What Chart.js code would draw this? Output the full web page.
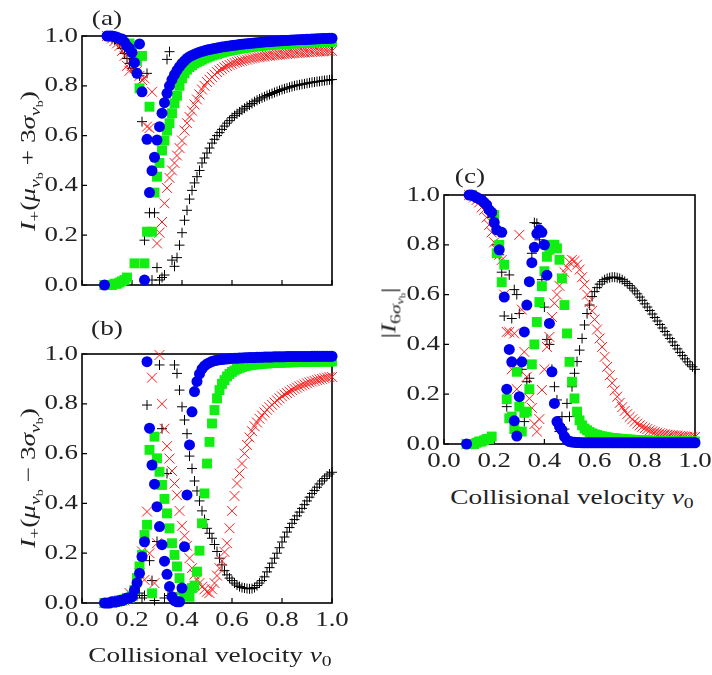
<!DOCTYPE html>
<html>
<head>
<meta charset="utf-8">
<script src="https://cdn.jsdelivr.net/npm/chart.js@4.4.1/dist/chart.umd.min.js"></script>
<style>
  body { margin: 0; background: #fff; }
  #wrap { position: relative; width: 712px; height: 675px; overflow: hidden; font-family: "Liberation Serif", "DejaVu Serif", serif; color: #222; }
  canvas { position: absolute; }
  #chart-a { left: 0px; top: 0px; }
  #chart-b { left: 0px; top: 310px; }
  #chart-c { left: 360px; top: 150px; }
  .lbl { position: absolute; font-size: 21px; white-space: nowrap; line-height: 1; }
  .rot { transform: translate(-50%, -50%) rotate(-90deg) scaleX(1.3); }
  .hor { transform: translate(-50%, -50%) scaleX(1.3); }
  sub { font-size: 72%; vertical-align: -0.3em; line-height: 0; }
</style>
</head>
<body>
<div id="wrap">
  <canvas id="chart-a" width="345" height="300"></canvas>
  <canvas id="chart-b" width="360" height="365"></canvas>
  <canvas id="chart-c" width="352" height="330"></canvas>

  <div class="lbl hor" style="left:107px;top:18px">(a)</div>
  <div class="lbl hor" style="left:107px;top:328px">(b)</div>
  <div class="lbl hor" style="left:470px;top:176px">(c)</div>

  <div class="lbl rot" style="left:28px;top:161px"><i>I</i><sub>+</sub>(<i>μ</i><sub><i>v</i><sub>b</sub></sub> + 3<i>σ</i><sub><i>v</i><sub>b</sub></sub>)</div>
  <div class="lbl rot" style="left:28px;top:478px"><i>I</i><sub>+</sub>(<i>μ</i><sub><i>v</i><sub>b</sub></sub> − 3<i>σ</i><sub><i>v</i><sub>b</sub></sub>)</div>
  <div class="lbl rot" style="left:391px;top:313px">|<i>I</i><sub>6<i>σ</i><sub><i>v</i><sub>b</sub></sub></sub>|</div>

  <div class="lbl hor" style="left:210px;top:655px">Collisional velocity <i>v</i><sub>0</sub></div>
  <div class="lbl hor" style="left:572px;top:497px">Collisional velocity <i>v</i><sub>0</sub></div>
</div>

<script>
// collisional velocity grid (shared by all panels)
const v0 = [
  0.09, 0.10, 0.11, 0.12, 0.13, 0.14, 0.15, 0.16, 0.17, 0.18,
  0.19, 0.20, 0.21, 0.22, 0.23, 0.24, 0.25, 0.26, 0.27, 0.28,
  0.29, 0.30, 0.31, 0.32, 0.33, 0.34, 0.35, 0.36, 0.37, 0.38,
  0.39, 0.40, 0.41, 0.42, 0.43, 0.44, 0.45, 0.46, 0.47, 0.48,
  0.49, 0.50, 0.51, 0.52, 0.53, 0.54, 0.55, 0.56, 0.57, 0.58,
  0.59, 0.60, 0.61, 0.62, 0.63, 0.64, 0.65, 0.66, 0.67, 0.68,
  0.69, 0.70, 0.71, 0.72, 0.73, 0.74, 0.75, 0.76, 0.77, 0.78,
  0.79, 0.80, 0.81, 0.82, 0.83, 0.84, 0.85, 0.86, 0.87, 0.88,
  0.89, 0.90, 0.91, 0.92, 0.93, 0.94, 0.95, 0.96, 0.97, 0.98,
  0.99, 1.00
];

// panel (a): I+(mu + 3 sigma)
const aPlus = [
  0, 1.0, 1.0, 0.99, 0.985, 0.98, 0.97, 0.95, 0.93, 0.91,
  0.89, 0.87, 0.86, 0.85, 0.84, 0.656, 0.18, 0.85, 0.29, 0.02,
  0.29, 0.07, 0.02, 0.03, 0.04, 0.906, 0.937, 0.10, 0.075, 0.11,
  0.16, 0.21, 0.26, 0.30, 0.345, 0.38, 0.41, 0.435, 0.46, 0.49,
  0.51, 0.53, 0.55, 0.57, 0.585, 0.60, 0.612, 0.625, 0.638, 0.65,
  0.66, 0.672, 0.68, 0.688, 0.695, 0.703, 0.71, 0.717, 0.723, 0.729,
  0.736, 0.742, 0.747, 0.752, 0.756, 0.761, 0.765, 0.769, 0.773, 0.777,
  0.781, 0.785, 0.788, 0.791, 0.794, 0.797, 0.80, 0.802, 0.804, 0.806,
  0.808, 0.81, 0.812, 0.814, 0.815, 0.817, 0.818, 0.82, 0.821, 0.822,
  0.824, 0.825
];
const aCross = [
  0, 1.0, 1.0, 0.99, 0.98, 0.97, 0.96, 0.94, 0.92, 0.88,
  0.86, 0.88, 0.87, 0.86, 0.84, 0.823, 0.83, 0.636, 0.63, 0.776,
  0.46, 0.167, 0.21, 0.253, 0.328, 0.39, 0.43, 0.46, 0.49, 0.52,
  0.55, 0.58, 0.62, 0.65, 0.675, 0.70, 0.725, 0.745, 0.765, 0.785,
  0.80, 0.815, 0.825, 0.835, 0.845, 0.855, 0.862, 0.868, 0.874, 0.879,
  0.884, 0.888, 0.892, 0.895, 0.898, 0.90, 0.903, 0.905, 0.908, 0.91,
  0.912, 0.914, 0.915, 0.917, 0.918, 0.92, 0.921, 0.922, 0.923, 0.924,
  0.925, 0.926, 0.927, 0.928, 0.929, 0.93, 0.931, 0.932, 0.932, 0.933,
  0.934, 0.935, 0.935, 0.936, 0.937, 0.937, 0.938, 0.938, 0.939, 0.939,
  0.94, 0.94
];
const aSquare = [
  0, 0, 1.0, 0, 0.005, 0.005, 0.01, 0.015, 0.02, 0.03,
  0.97, 0.95, 0.087, 0.90, 0.79, 0.92, 0.087, 0.214, 0.716, 0.214,
  0.371, 0.435, 0.49, 0.54, 0.58, 0.62, 0.65, 0.69, 0.73, 0.76,
  0.80, 0.83, 0.85, 0.865, 0.875, 0.883, 0.89, 0.896, 0.90, 0.905,
  0.91, 0.914, 0.918, 0.922, 0.925, 0.928, 0.931, 0.934, 0.937, 0.939,
  0.941, 0.943, 0.945, 0.947, 0.949, 0.951, 0.952, 0.954, 0.955, 0.957,
  0.958, 0.959, 0.96, 0.961, 0.962, 0.963, 0.964, 0.965, 0.966, 0.966,
  0.967, 0.968, 0.968, 0.969, 0.97, 0.97, 0.971, 0.971, 0.972, 0.972,
  0.973, 0.973, 0.974, 0.974, 0.975, 0.975, 0.975, 0.976, 0.976, 0.977,
  0.977, 0.977
];
const aCircle = [
  0, 1.0, 1.0, 1.0, 0.998, 0.995, 0.99, 0.988, 0.975, 0.96,
  0.95, 0.933, 0.893, 0.85, 0.968, 0.776, 0.02, 0.585, 0.371, 0.459,
  0.513, 0.582, 0.636, 0.69, 0.732, 0.77, 0.80, 0.825, 0.845, 0.862,
  0.877, 0.89, 0.90, 0.91, 0.917, 0.922, 0.927, 0.931, 0.935, 0.938,
  0.941, 0.944, 0.946, 0.948, 0.95, 0.952, 0.954, 0.956, 0.957, 0.959,
  0.96, 0.962, 0.963, 0.964, 0.966, 0.967, 0.968, 0.969, 0.97, 0.971,
  0.972, 0.973, 0.974, 0.975, 0.976, 0.977, 0.977, 0.978, 0.979, 0.98,
  0.98, 0.981, 0.982, 0.982, 0.983, 0.984, 0.984, 0.985, 0.985, 0.986,
  0.986, 0.987, 0.987, 0.988, 0.988, 0.989, 0.989, 0.99, 0.99, 0.99,
  0.991, 0.991
];

// panel (b): I+(mu - 3 sigma)
const bPlus = [
  0, 0, 0, 0, 0.005, 0.005, 0.01, 0.01, 0.01, 0.015,
  0.02, 0.02, 0.03, 0.03, 0.04, 0.02, 0.03, 0.795, 0.17, 0.09,
  0.01, 0.247, 0.956, 0.70, 0.02, 0.52, 0.03, 0.04, 0.956, 0.922,
  0.855, 0.788, 0.735, 0.68, 0.59, 0.54, 0.49, 0.45, 0.41, 0.37,
  0.335, 0.30, 0.28, 0.26, 0.235, 0.207, 0.18, 0.153, 0.13, 0.113,
  0.10, 0.09, 0.08, 0.072, 0.066, 0.062, 0.06, 0.058, 0.057, 0.058,
  0.062, 0.07, 0.08, 0.09, 0.105, 0.125, 0.142, 0.16, 0.18, 0.20,
  0.222, 0.245, 0.265, 0.285, 0.303, 0.32, 0.335, 0.35, 0.365, 0.38,
  0.395, 0.41, 0.425, 0.44, 0.452, 0.465, 0.478, 0.49, 0.50, 0.51,
  0.518, 0.525
];
const bCross = [
  0, 0, 0, 0, 0.005, 0.005, 0.01, 0.01, 0.01, 0.02,
  0.04, 0.03, 0.05, 0.10, 0.12, 0.207, 0.093, 0.367, 0.20, 0.905,
  0.08, 0.24, 0.996, 0.80, 0.70, 0.63, 0.58, 0.53, 0.48, 0.433,
  0.37, 0.31, 0.27, 0.23, 0.18, 0.14, 0.115, 0.095, 0.08, 0.065,
  0.055, 0.045, 0.04, 0.055, 0.08, 0.11, 0.14, 0.17, 0.205, 0.24,
  0.30, 0.37, 0.43, 0.48, 0.52, 0.56, 0.60, 0.635, 0.665, 0.69,
  0.71, 0.725, 0.74, 0.753, 0.765, 0.776, 0.786, 0.796, 0.805, 0.814,
  0.822, 0.83, 0.837, 0.843, 0.849, 0.855, 0.86, 0.865, 0.87, 0.874,
  0.878, 0.882, 0.886, 0.889, 0.892, 0.895, 0.898, 0.90, 0.903, 0.905,
  0.907, 0.908
];
const bSquare = [
  0, 0, 0, 0, 0.005, 0.005, 0.01, 0.01, 0.015, 0.02,
  0.02, 0.03, 0.052, 0.10, 0.147, 0.193, 0.273, 0.314, 0.615, 0.039,
  0.668, 0.581, 0.527, 0.474, 0.418, 0.36, 0.30, 0.24, 0.193, 0.147,
  0.10, 0.05, 0.03, 0.03, 0.025, 0.06, 0.07, 0.126, 0.21, 0.32,
  0.44, 0.56, 0.647, 0.721, 0.775, 0.822, 0.855, 0.88, 0.895, 0.91,
  0.92, 0.928, 0.934, 0.94, 0.944, 0.948, 0.951, 0.953, 0.955, 0.957,
  0.958, 0.959, 0.96, 0.961, 0.962, 0.962, 0.963, 0.964, 0.964, 0.965,
  0.965, 0.966, 0.966, 0.966, 0.967, 0.967, 0.967, 0.968, 0.968, 0.968,
  0.968, 0.969, 0.969, 0.969, 0.969, 0.969, 0.97, 0.97, 0.97, 0.97,
  0.97, 0.97
];
const bCircle = [
  0, 0, 0, 0.005, 0.005, 0.005, 0.01, 0.01, 0.015, 0.02,
  0.02, 0.025, 0.052, 0.08, 0.119, 0.186, 0.246, 0.969, 0.702, 0.554,
  0.477, 0.387, 0.307, 0.234, 0.168, 0.115, 0.066, 0.025, 0.01, 0.005,
  0.005, 0.06, 0.226, 0.434, 0.635, 0.768, 0.849, 0.89, 0.92, 0.94,
  0.952, 0.96, 0.965, 0.97, 0.973, 0.975, 0.977, 0.978, 0.979, 0.98,
  0.981, 0.982, 0.983, 0.983, 0.984, 0.984, 0.985, 0.985, 0.986, 0.986,
  0.986, 0.987, 0.987, 0.987, 0.988, 0.988, 0.988, 0.988, 0.989, 0.989,
  0.989, 0.989, 0.989, 0.99, 0.99, 0.99, 0.99, 0.99, 0.99, 0.99,
  0.99, 0.99, 0.99, 0.991, 0.991, 0.991, 0.991, 0.991, 0.991, 0.991,
  0.991, 0.991
];

// panel (c): |I_6sigma|
const cPlus = [
  0, 1.0, 1.0, 0.99, 0.985, 0.98, 0.97, 0.96, 0.95, 0.93,
  0.91, 0.89, 0.80, 0.76, 0.69, 0.514, 0.15, 0.679, 0.504, 0.62,
  0.60, 0.524, 0.30, 0.09, 0.25, 0.264, 0.766, 0.889, 0.886, 0.82,
  0.66, 0.55, 0.42, 0.40, 0.30, 0.23, 0.177, 0.05, 0.11, 0.06,
  0.163, 0.11, 0.23, 0.284, 0.331, 0.377, 0.424, 0.478, 0.524, 0.558,
  0.592, 0.612, 0.628, 0.642, 0.652, 0.66, 0.665, 0.668, 0.67, 0.67,
  0.668, 0.665, 0.66, 0.653, 0.645, 0.636, 0.626, 0.615, 0.603, 0.59,
  0.577, 0.563, 0.55, 0.536, 0.522, 0.508, 0.494, 0.48, 0.466, 0.452,
  0.438, 0.424, 0.41, 0.396, 0.382, 0.368, 0.355, 0.342, 0.33, 0.318,
  0.31, 0.30
];
const cCross = [
  0, 1.0, 1.0, 0.99, 0.98, 0.97, 0.95, 0.94, 0.91, 0.88,
  0.85, 0.81, 0.78, 0.76, 0.739, 0.60, 0.45, 0.45, 0.30, 0.444,
  0.22, 0.84, 0.54, 0.37, 0.27, 0.183, 0.145, 0.08, 0.05, 0.10,
  0.217, 0.30, 0.39, 0.43, 0.51, 0.565, 0.60, 0.635, 0.665, 0.69,
  0.71, 0.73, 0.74, 0.735, 0.72, 0.70, 0.67, 0.64, 0.60, 0.57,
  0.535, 0.50, 0.46, 0.424, 0.39, 0.35, 0.31, 0.276, 0.245, 0.215,
  0.19, 0.165, 0.148, 0.133, 0.12, 0.109, 0.099, 0.09, 0.082, 0.075,
  0.069, 0.064, 0.06, 0.055, 0.051, 0.048, 0.045, 0.043, 0.041, 0.039,
  0.037, 0.036, 0.035, 0.034, 0.033, 0.032, 0.031, 0.030, 0.029, 0.029,
  0.028, 0.028
];
const cSquare = [
  0, 0, 1.0, 0, 0.005, 0.01, 0.01, 0.015, 0.02, 0.02,
  0.03, 0.92, 0.766, 0.80, 0.65, 0.72, 0.18, 0.103, 0.11, 0.06,
  0.29, 0.15, 0.05, 0.125, 0.13, 0.22, 0.32, 0.40, 0.49, 0.57,
  0.634, 0.694, 0.752, 0.78, 0.80, 0.80, 0.786, 0.74, 0.665, 0.558,
  0.444, 0.33, 0.25, 0.183, 0.13, 0.095, 0.075, 0.062, 0.055, 0.048,
  0.043, 0.039, 0.036, 0.033, 0.031, 0.029, 0.027, 0.025, 0.024, 0.023,
  0.022, 0.021, 0.02, 0.019, 0.018, 0.018, 0.017, 0.016, 0.016, 0.015,
  0.015, 0.014, 0.014, 0.013, 0.013, 0.013, 0.012, 0.012, 0.012, 0.011,
  0.011, 0.011, 0.011, 0.01, 0.01, 0.01, 0.01, 0.01, 0.01, 0.01,
  0.01, 0.01
];
const cCircle = [
  0, 1.0, 1.0, 0.996, 0.99, 0.985, 0.98, 0.97, 0.96, 0.94,
  0.93, 0.89, 0.86, 0.78, 0.85, 0.59, 0.22, 0.38, 0.33, 0.093,
  0.032, 0.19, 0.33, 0.45, 0.558, 0.652, 0.728, 0.79, 0.845, 0.86,
  0.85, 0.80, 0.678, 0.484, 0.29, 0.163, 0.09, 0.07, 0.056, 0.03,
  0.016, 0.01, 0.008, 0.007, 0.006, 0.006, 0.005, 0.005, 0.005, 0.005,
  0.005, 0.005, 0.005, 0.005, 0.005, 0.005, 0.005, 0.005, 0.005, 0.005,
  0.005, 0.005, 0.005, 0.005, 0.005, 0.005, 0.005, 0.005, 0.005, 0.005,
  0.005, 0.005, 0.005, 0.005, 0.005, 0.005, 0.005, 0.005, 0.005, 0.005,
  0.005, 0.005, 0.005, 0.005, 0.005, 0.005, 0.005, 0.005, 0.005, 0.005,
  0.005, 0.005
];

const axisTicks = [0, 0.2, 0.4, 0.6, 0.8, 1.0];

const serif = '"Liberation Serif", "DejaVu Serif", serif';

// frame around the plot area, small inward ticks, and the (wide) tick labels
const framePlugin = {
  id: "frame",
  beforeDatasetsDraw(chart, args, opts) {
    const { ctx, chartArea: a, scales } = chart;
    ctx.save();
    ctx.strokeStyle = "#000";
    ctx.lineWidth = 1.6;
    ctx.strokeRect(a.left, a.top, a.right - a.left, a.bottom - a.top);
    ctx.lineWidth = 1.2;
    ctx.beginPath();
    scales.x.ticks.forEach(t => {
      const px = scales.x.getPixelForValue(t.value);
      ctx.moveTo(px, a.bottom);
      ctx.lineTo(px, a.bottom - 5);
    });
    scales.y.ticks.forEach(t => {
      const py = scales.y.getPixelForValue(t.value);
      ctx.moveTo(a.left, py);
      ctx.lineTo(a.left + 5, py);
    });
    ctx.stroke();

    ctx.fillStyle = "#222";
    ctx.font = "21px " + serif;
    ctx.textBaseline = "middle";
    scales.y.ticks.forEach(t => {
      const py = scales.y.getPixelForValue(t.value);
      ctx.save();
      ctx.translate(a.left - 4, py);
      ctx.scale(1.28, 1);
      ctx.textAlign = "right";
      ctx.fillText(t.value.toFixed(1), 0, 0);
      ctx.restore();
    });
    if (opts.xLabels) {
      scales.x.ticks.forEach(t => {
        const px = scales.x.getPixelForValue(t.value);
        ctx.save();
        ctx.translate(px, a.bottom + 17);
        ctx.scale(1.28, 1);
        ctx.textAlign = "center";
        ctx.fillText(t.value.toFixed(1), 0, 0);
        ctx.restore();
      });
    }
    ctx.restore();
  }
};

function pts(arr) {
  return v0.map((v, i) => ({ x: v, y: arr[i] }));
}

function makeDatasets(plus, cross, square, circle) {
  return [
    { label: "circle", data: pts(circle), pointStyle: "circle", pointRadius: 5.5,
      backgroundColor: "#0000ee", borderWidth: 0, order: 0, clip: false },
    { label: "square", data: pts(square), pointStyle: "rect", pointRadius: 7,
      backgroundColor: "#11ee11", borderWidth: 0, order: 1, clip: false },
    { label: "cross", data: pts(cross), pointStyle: "crossRot", pointRadius: 7,
      borderColor: "#ff1a1a", backgroundColor: "#ff1a1a", borderWidth: 1, order: 2, clip: false },
    { label: "plus", data: pts(plus), pointStyle: "cross", pointRadius: 5,
      borderColor: "#000", backgroundColor: "#000", borderWidth: 1, order: 3, clip: false }
  ];
}

function makeChart(id, datasets, opts) {
  const ctx = document.querySelector(id).getContext("2d");
  return new Chart(ctx, {
    type: "scatter",
    data: { datasets: datasets },
    options: {
      responsive: false,
      animation: false,
      events: [],
      layout: { padding: { top: opts.top, right: opts.right, left: 0, bottom: 0 } },
      plugins: {
        legend: { display: false },
        tooltip: { enabled: false },
        frame: { xLabels: opts.xLabels }
      },
      scales: {
        x: {
          type: "linear", min: 0, max: 1,
          grid: { display: false },
          border: { display: false },
          afterFit: s => { s.height = opts.xHeight; },
          afterBuildTicks: s => { s.ticks = axisTicks.map(v => ({ value: v })); },
          ticks: { display: false }
        },
        y: {
          type: "linear", min: 0, max: 1,
          grid: { display: false },
          border: { display: false },
          afterFit: s => { s.width = opts.yWidth; },
          afterBuildTicks: s => { s.ticks = axisTicks.map(v => ({ value: v })); },
          ticks: { display: false }
        }
      }
    },
    plugins: [framePlugin]
  });
}

// (a) plot area 82..332 x 36..285
makeChart("#chart-a", makeDatasets(aPlus, aCross, aSquare, aCircle),
  { top: 36, right: 13, xHeight: 15, yWidth: 82, xLabels: false });

// (b) plot area 82..332 x 354..603
makeChart("#chart-b", makeDatasets(bPlus, bCross, bSquare, bCircle),
  { top: 44, right: 28, xHeight: 72, yWidth: 82, xLabels: true });

// (c) plot area 444..695 x 195..444
makeChart("#chart-c", makeDatasets(cPlus, cCross, cSquare, cCircle),
  { top: 45, right: 17, xHeight: 36, yWidth: 84, xLabels: true });
</script>
</body>
</html>
